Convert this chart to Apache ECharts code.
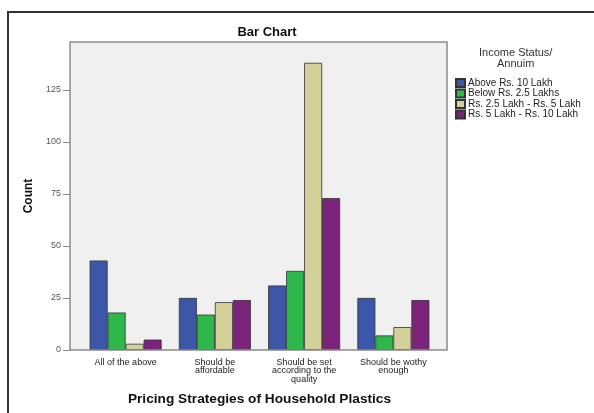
<!DOCTYPE html>
<html><head><meta charset="utf-8">
<script src="https://cdn.jsdelivr.net/npm/echarts@6/dist/echarts.min.js"></script>
<style>html,body{margin:0;padding:0;background:#fff}#c{width:594px;height:413px}</style>
</head><body><div id="c"></div>
<script>
const categories = ["All of the above", "Should be\naffordable", "Should be set\naccording to the\nquality", "Should be wothy\nenough"];
const seriesNames = ["Above Rs. 10 Lakh", "Below Rs. 2.5 Lakhs", "Rs. 2.5 Lakh - Rs. 5 Lakh", "Rs. 5 Lakh - Rs. 10 Lakh"];
const above10 = [43, 25, 31, 25];
const below25 = [18, 17, 38, 7];
const from25to5 = [3, 23, 138, 11];
const from5to10 = [5, 24, 73, 24];
const yTicks = [0, 25, 50, 75, 100, 125];
const colors = ["#3c56a8", "#2eb84c", "#d4d09a", "#7c247c"];
const values = [above10, below25, from25to5, from5to10];

const chart = echarts.init(document.getElementById('c'), null, {renderer: 'canvas'});
const font = 'Liberation Sans, Arial, sans-serif';
chart.setOption({
  animation: false,
  textStyle: {fontFamily: font},
  graphic: [
    {type: 'rect', z: -10, shape: {x: 8, y: 12, width: 700, height: 500}, style: {fill: 'none', stroke: '#333', lineWidth: 2}},
    {type: 'rect', z: -5, shape: {x: 70, y: 42, width: 377, height: 308}, style: {fill: '#f0f0f0', stroke: 'none'}},
    {type: 'rect', z: 100, shape: {x: 70, y: 42, width: 377, height: 308}, style: {fill: 'none', stroke: '#8a8a8a', lineWidth: 1.5}},
    {type: 'text', z: 100, left: 479, top: 47.5, style: {text: 'Income Status/\nAnnuim', fill: '#333', font: '11px ' + font, textAlign: 'center', lineHeight: 11}}
  ],
  title: {text: 'Bar Chart', left: 262, top: 21, textAlign: 'center',
    textStyle: {fontSize: 13, fontWeight: 'bold', color: '#111', fontFamily: font}},
  legend: {
    orient: 'vertical', left: 450, top: 73, itemWidth: 9, itemHeight: 8, itemGap: 0.5,
    icon: 'rect', data: seriesNames,
    textStyle: {fontSize: 10, color: '#222', padding: [0, 0, 0, -2], lineHeight: 9, fontFamily: font}
  },
  grid: {left: 81, right: 156, top: 42, bottom: 63, containLabel: false},
  xAxis: {
    type: 'category', data: categories,
    name: 'Pricing Strategies of Household Plastics', nameLocation: 'middle', nameGap: 42,
    nameTextStyle: {fontSize: 13.7, fontWeight: 'bold', color: '#111', fontFamily: font},
    axisLine: {show: false}, axisTick: {show: false},
    axisLabel: {fontSize: 9, color: '#222', margin: 8, lineHeight: 8.5, interval: 0, fontFamily: font}
  },
  yAxis: {
    type: 'value', min: 0, max: 148, interval: 25, offset: 11,
    name: 'Count', nameLocation: 'middle', nameGap: 27, nameRotate: 90,
    nameTextStyle: {fontSize: 12, fontWeight: 'bold', color: '#111', fontFamily: font},
    axisLine: {show: false},
    axisTick: {show: true, length: 7, lineStyle: {color: '#888'}, customValues: yTicks},
    splitLine: {show: false},
    axisLabel: {fontSize: 9, color: '#555', margin: 9, fontFamily: font, customValues: yTicks}
  },
  series: seriesNames.map((n, i) => ({
    name: n, type: 'bar', data: values[i], barWidth: 18, barGap: '0%',
    itemStyle: {color: colors[i], borderColor: '#333', borderWidth: 0.8}
  }))
});
</script></body></html>
